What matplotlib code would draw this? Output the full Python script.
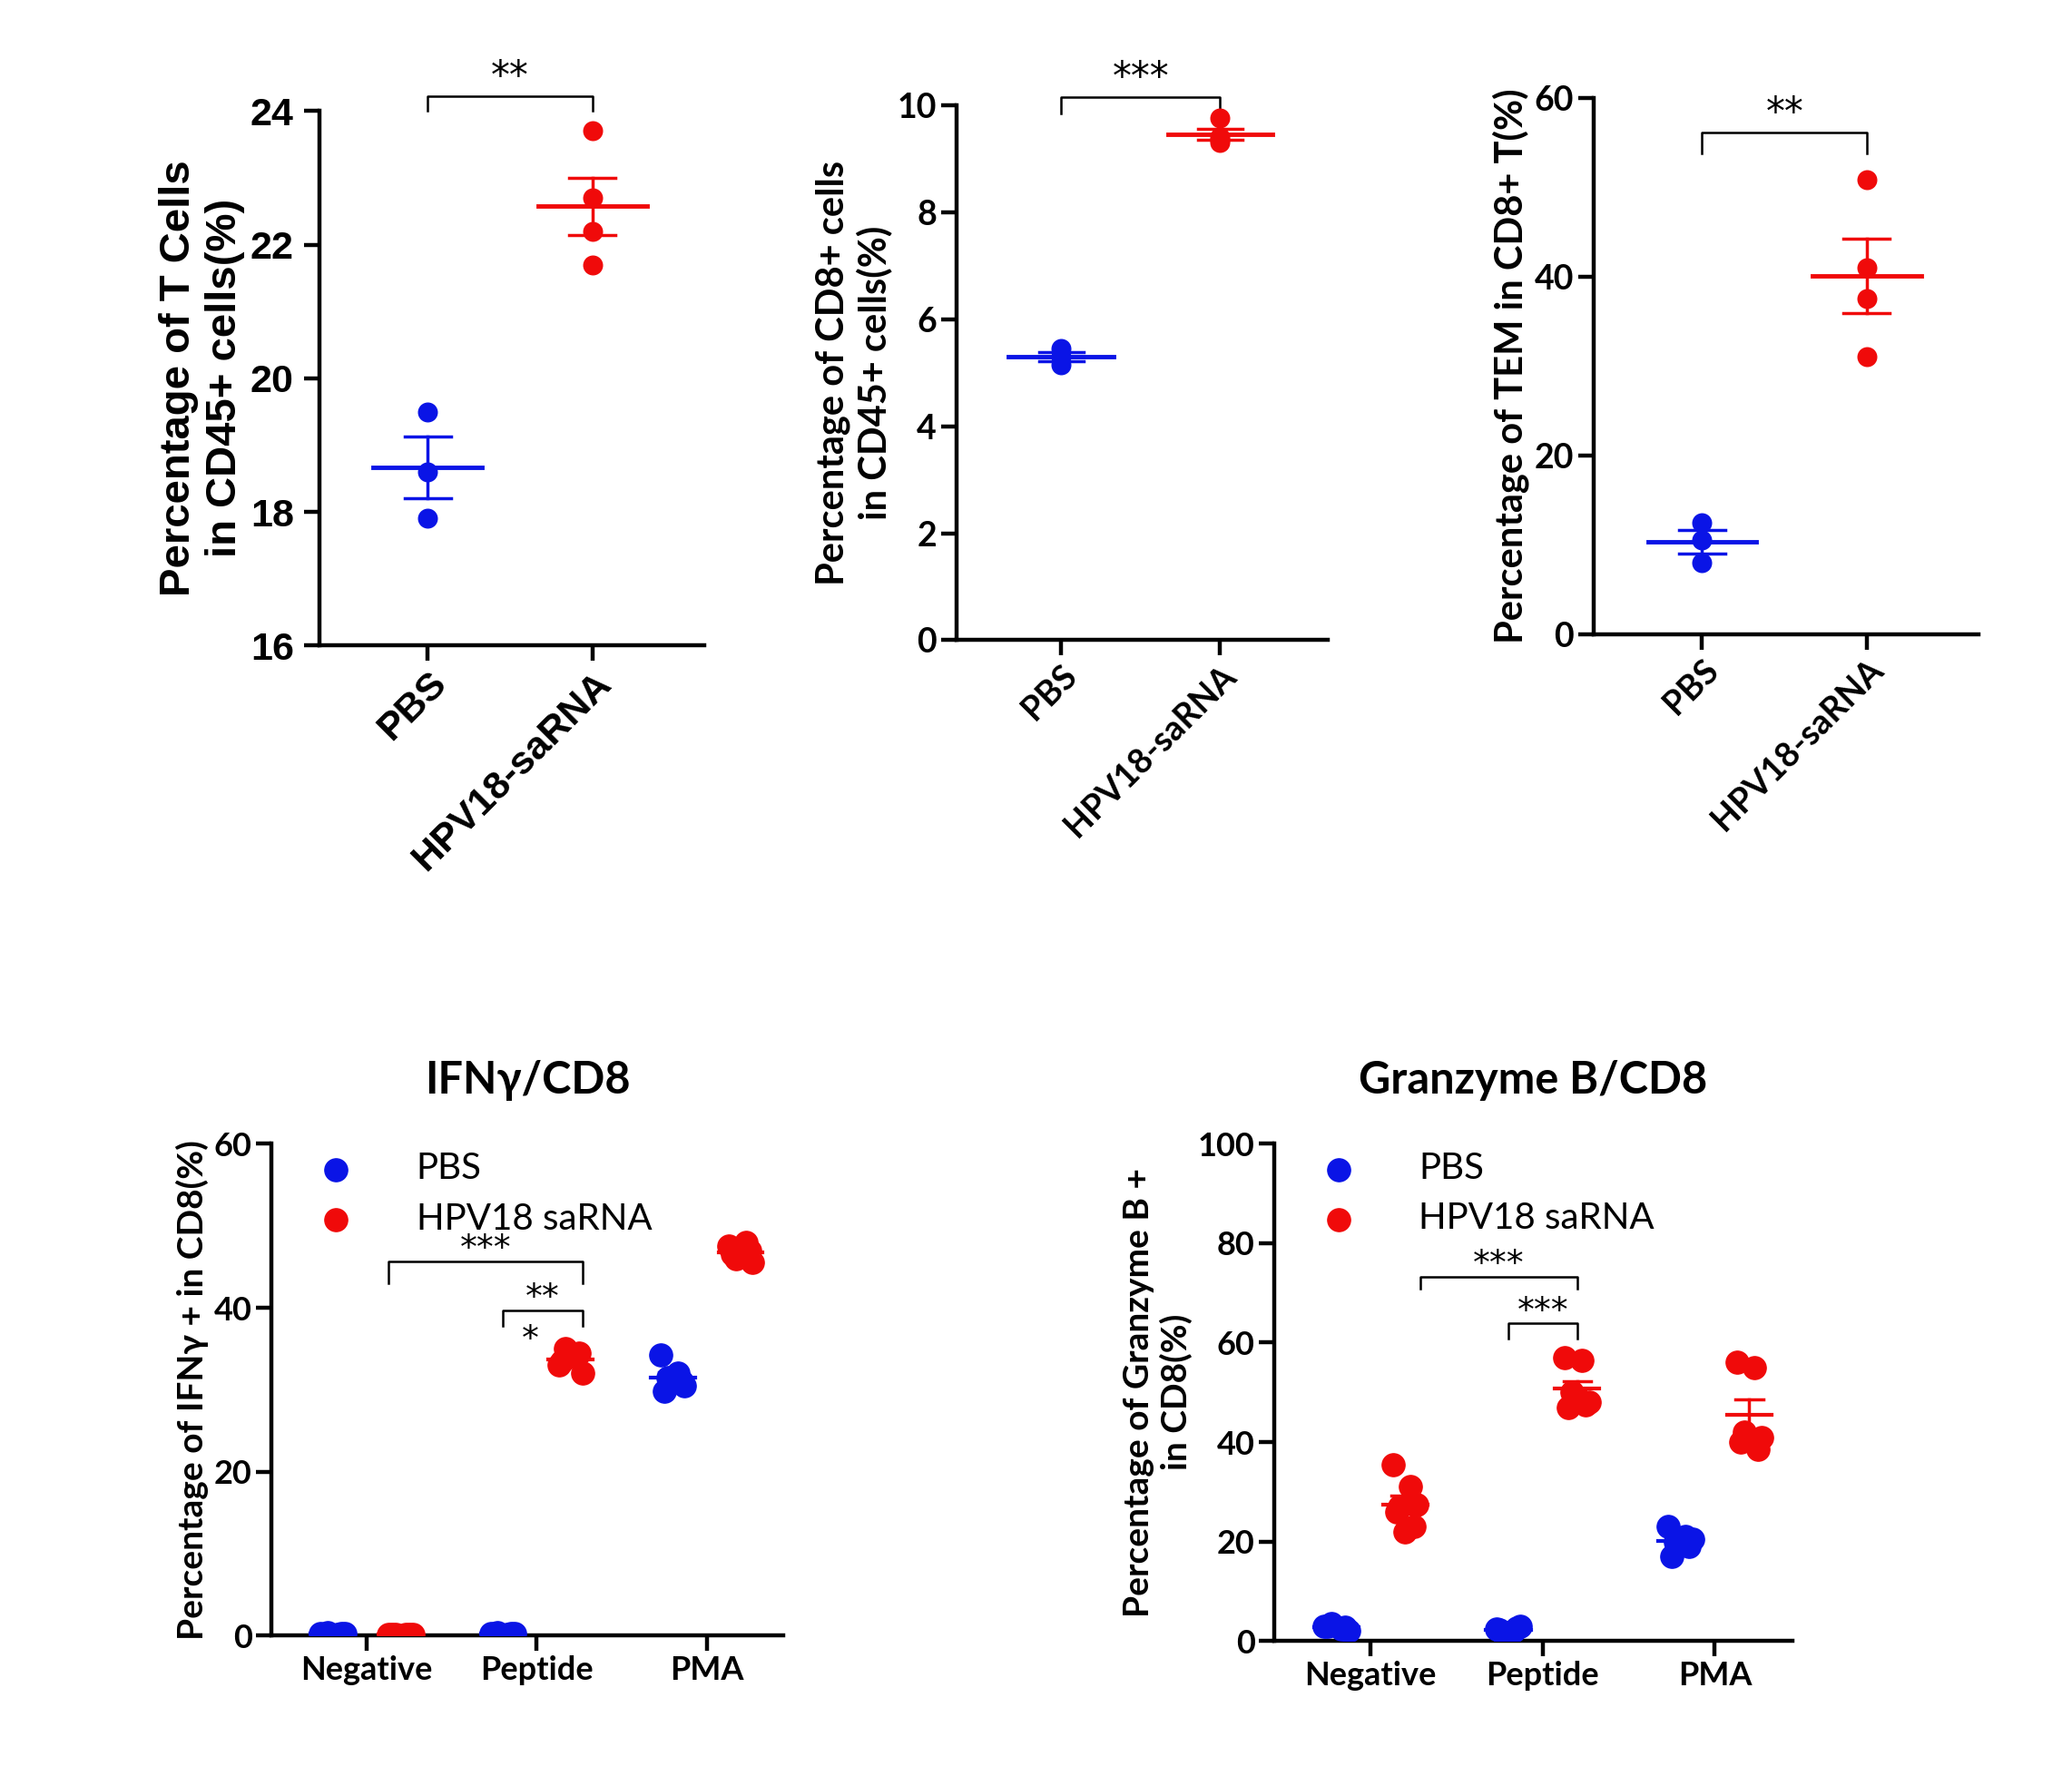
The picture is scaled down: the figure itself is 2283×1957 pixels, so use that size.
import numpy as np
import matplotlib.pyplot as plt

BLUE = '#0a14e6'
RED = '#f00a0a'

# ---- top panels: two groups each
groups = ['PBS', 'HPV18-saRNA']
tcell_pbs = [19.5, 18.6, 17.9]
tcell_hpv = [23.7, 22.7, 22.2, 21.7]
cd8_pbs = [5.45, 5.15, 5.3]
cd8_hpv = [9.75, 9.3, 9.35, 9.4]
tem_pbs = [12.5, 8.0, 10.5]
tem_hpv = [50.8, 41.0, 37.5, 31.0]

# ---- bottom panels: three stimulations
stims = ['Negative', 'Peptide', 'PMA']
ifn_pbs = [[0.3, 0.2, 0.4, 0.3, 0.2, 0.3], [0.3, 0.2, 0.4, 0.3, 0.2, 0.3],
           [34.3, 32.0, 31.5, 30.5, 29.8, 31.0]]
ifn_hpv = [[0.2, 0.1, 0.2, 0.2, 0.1, 0.2], [33.0, 34.0, 35.0, 32.0, 33.5, 34.5],
           [47.5, 48.0, 46.0, 45.5, 46.5, 47.0]]
gzm_pbs = [[3.0, 2.5, 3.5, 2.0, 3.0, 2.8], [2.5, 2.0, 1.5, 3.0, 2.2, 2.6],
           [23.0, 21.0, 20.0, 20.5, 17.0, 19.0]]
gzm_hpv = [[35.5, 31.0, 27.0, 27.5, 26.0, 23.0, 22.0],
           [57.0, 56.5, 50.0, 48.0, 47.0, 47.5, 49.0],
           [56.0, 55.0, 42.0, 41.0, 40.0, 38.5]]

fig = plt.figure(figsize=(22.83, 19.57), dpi=100)


def mean_sem(ax, x, vals, color, half=0.33, cap=0.14, lw=3.5):
    v = np.array(vals)
    m = v.mean()
    s = v.std(ddof=1) / np.sqrt(len(v))
    ax.plot([x - half, x + half], [m, m], color=color, lw=lw, zorder=4)
    ax.plot([x, x], [m - s, m + s], color=color, lw=2.5, zorder=4)
    for y in (m - s, m + s):
        ax.plot([x - cap, x + cap], [y, y], color=color, lw=2.5, zorder=4)


def bracket(ax, x0, x1, y, drop, text, fs, font, dy=0.0):
    ax.plot([x0, x0, x1, x1], [y - drop, y, y, y - drop], color='k', lw=1.8,
            clip_on=False)
    ax.text((x0 + x1) / 2, y + dy, text, ha='center', va='bottom', fontsize=fs,
            family=font, clip_on=False)


def style(ax, lw=3.2):
    for s in ['top', 'right']:
        ax.spines[s].set_visible(False)
    for s in ['left', 'bottom']:
        ax.spines[s].set_linewidth(lw)
    ax.tick_params(width=lw, length=12)


def top_panel(rect, pbs, hpv, ylim, yticks, ylabel, font, tfs, lfs, yb, drop, stars):
    ax = fig.add_axes(rect)
    ax.scatter(np.zeros(len(pbs)), pbs, s=220, color=BLUE, zorder=3)
    ax.scatter(np.ones(len(hpv)), hpv, s=220, color=RED, zorder=3)
    mean_sem(ax, 0, pbs, BLUE)
    mean_sem(ax, 1, hpv, RED)
    ax.set_xlim(-0.66, 1.68)
    ax.set_ylim(*ylim)
    ax.set_yticks(yticks)
    ax.set_xticks([0, 1])
    ax.set_xticklabels(groups, rotation=45, ha='right', rotation_mode='anchor')
    for t in ax.get_xticklabels() + ax.get_yticklabels():
        t.set_fontsize(tfs)
        t.set_fontweight('bold')
        t.set_family(font)
    ax.set_ylabel(ylabel, fontsize=lfs, fontweight='bold', family=font)
    style(ax)
    bracket(ax, 0, 1, yb, drop, stars, 30, 'DejaVu Sans')
    return ax


a = top_panel([0.154, 0.6365, 0.186, 0.301], tcell_pbs, tcell_hpv, (16, 24),
              [16, 18, 20, 22, 24], 'Percentage of T Cells\nin CD45+ cells(%)',
              'Liberation Sans', 31, 34, 24.22, 0.22, '**')
a.tick_params(axis='y', pad=8)
b = top_panel([0.4615, 0.6395, 0.1795, 0.3014], cd8_pbs, cd8_hpv, (0, 10),
              [0, 2, 4, 6, 8, 10], 'Percentage of CD8+ cells\nin CD45+ cells(%)',
              'Lato', 27, 30, 10.15, 0.3, '***')
c = top_panel([0.769, 0.643, 0.186, 0.302], tem_pbs, tem_hpv, (0, 60),
              [0, 20, 40, 60], 'Percentage of TEM in CD8+ T(%)',
              'Lato', 27, 30, 56.1, 2.3, '**')


def bottom_panel(rect, pbs, hpv, ylim, yticks, ylabel, title, brackets):
    ax = fig.add_axes(rect)
    jit = [-0.07, 0.03, -0.03, 0.07, -0.05, 0.05, 0.0]
    for i in range(3):
        for vals, dx, col in ((pbs[i], -0.2, BLUE), (hpv[i], 0.2, RED)):
            xs = i + dx + np.array(jit[:len(vals)])
            ax.scatter(xs, vals, s=330, color=col, zorder=3)
            mean_sem(ax, i + dx, vals, col, half=0.13, cap=0.08, lw=3)
    ax.set_xlim(-0.56, 2.45)
    ax.set_ylim(*ylim)
    ax.set_yticks(yticks)
    ax.set_xticks([0, 1, 2])
    ax.set_xticklabels(stims)
    for t in ax.get_xticklabels() + ax.get_yticklabels():
        t.set_fontsize(26)
        t.set_fontweight('bold')
        t.set_family('Lato')
    ax.set_ylabel(ylabel, fontsize=28, fontweight='bold', family='Lato')
    ax.set_title(title, fontsize=35, fontweight='bold', family='Lato', pad=40)
    style(ax)
    ax.scatter([], [], s=330, color=BLUE, label='PBS')
    ax.scatter([], [], s=330, color=RED, label='HPV18 saRNA')
    ax.legend(loc='upper left', bbox_to_anchor=(-0.01, 1.05), frameon=False,
              prop={'family': 'Lato', 'size': 29}, handletextpad=1.2,
              labelspacing=0.45)
    for x0, x1, y, drop, txt in brackets:
        bracket(ax, x0, x1, y, drop, txt, 27, 'DejaVu Sans',
                dy=-0.6 if ylim[1] == 60 else -1)
    return ax


d = bottom_panel([0.131, 0.079, 0.247, 0.277], ifn_pbs, ifn_hpv, (0, 60),
                 [0, 20, 40, 60], 'Percentage of IFNγ + in CD8(%)', 'IFNγ/CD8',
                 [(0.13, 1.27, 45.7, 2.7, '***'), (0.8, 1.27, 39.7, 1.9, '**')])
d.text(0.96, 34.0, '*', fontsize=27, ha='center', va='bottom')
e = bottom_panel([0.615, 0.076, 0.25, 0.28], gzm_pbs, gzm_hpv, (0, 100),
                 [0, 20, 40, 60, 80, 100], 'Percentage of Granzyme B +\nin CD8(%)',
                 'Granzyme B/CD8',
                 [(0.29, 1.2, 73.3, 2.5, '***'), (0.8, 1.2, 63.9, 3.0, '***')])

fig.savefig('out.png', dpi=100)
